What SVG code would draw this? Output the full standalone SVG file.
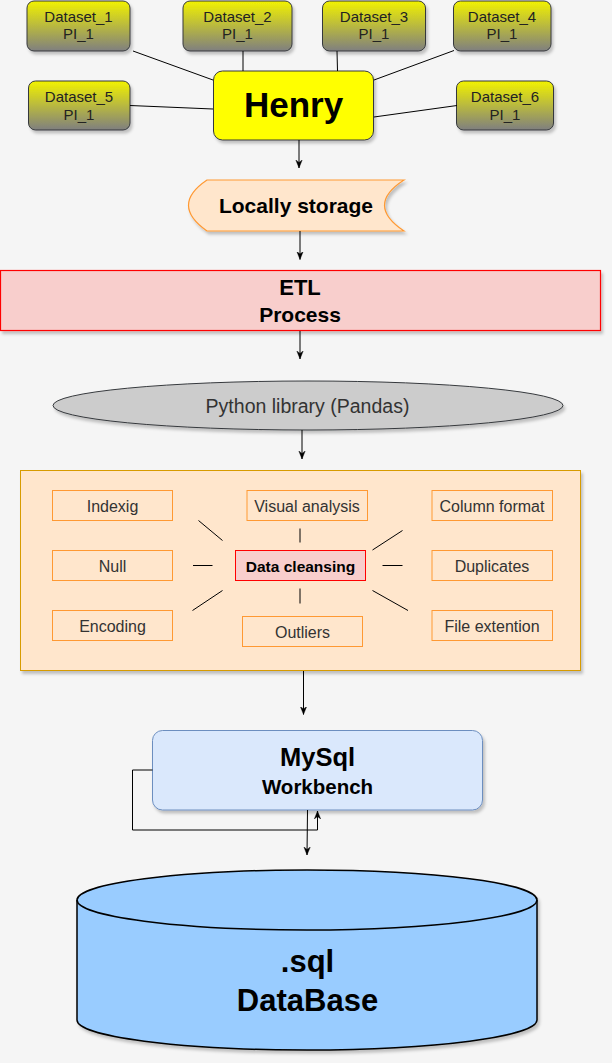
<svg xmlns="http://www.w3.org/2000/svg" width="612" height="1063" viewBox="0 0 612 1063">
<style>
text{font-family:"Liberation Sans",Arial,sans-serif;text-anchor:middle}
.ds{fill:url(#dsg);stroke:#36393d;stroke-width:1}
.dst{font-size:15px;fill:#222}
.sub{fill:#ffe6cc;stroke:#ff9933;stroke-width:1}
.subt{font-size:16px;fill:#333}
.ln{stroke:#000;stroke-width:1;fill:none}
.arr{stroke:#000;stroke-width:1;fill:none;marker-end:url(#ah)}
.b{font-weight:bold;fill:#000}
</style>
<defs>
<linearGradient id="dsg" x1="0" y1="0" x2="0" y2="1">
<stop offset="0" stop-color="#f2f200"/>
<stop offset="1" stop-color="#7f7f7f"/>
</linearGradient>
<filter id="sh" x="-10%" y="-10%" width="130%" height="140%">
<feDropShadow dx="2" dy="3" stdDeviation="1.5" flood-color="#000" flood-opacity="0.22"/>
</filter>
<marker id="ah" viewBox="0 0 10 10" refX="10" refY="5" markerWidth="8" markerHeight="8" orient="auto" markerUnits="userSpaceOnUse">
<path d="M0,1 L10,5 L0,9 L3,5 Z" fill="#000" stroke="#000" stroke-width="0.5"/>
</marker>
</defs>
<rect width="612" height="1063" fill="#f5f5f5"/>

<g id="dataset1"><rect class="ds" x="27" y="1" width="103" height="50" rx="7" filter="url(#sh)"/><text class="dst" x="78.5" y="21.5">Dataset_1</text><text class="dst" x="78.5" y="39">PI_1</text></g>
<g id="dataset2"><rect class="ds" x="183" y="1" width="109" height="50" rx="7" filter="url(#sh)"/><text class="dst" x="237.5" y="21.5">Dataset_2</text><text class="dst" x="237.5" y="39">PI_1</text></g>
<g id="dataset3"><rect class="ds" x="322.5" y="1" width="103" height="50" rx="7" filter="url(#sh)"/><text class="dst" x="374" y="21.5">Dataset_3</text><text class="dst" x="374" y="39">PI_1</text></g>
<g id="dataset4"><rect class="ds" x="453.5" y="1" width="97.5" height="50" rx="7" filter="url(#sh)"/><text class="dst" x="502" y="21.5">Dataset_4</text><text class="dst" x="502" y="39">PI_1</text></g>
<g id="dataset5"><rect class="ds" x="28.5" y="81" width="101.5" height="49" rx="7" filter="url(#sh)"/><text class="dst" x="79" y="101.5">Dataset_5</text><text class="dst" x="79" y="119.5">PI_1</text></g>
<g id="dataset6"><rect class="ds" x="456.5" y="81" width="97" height="49" rx="7" filter="url(#sh)"/><text class="dst" x="505" y="101.5">Dataset_6</text><text class="dst" x="505" y="119.5">PI_1</text></g>

<g id="henry"><rect x="213.5" y="71" width="160" height="69" rx="9" fill="#ffff00" stroke="#36393d" stroke-width="1" filter="url(#sh)"/><text class="b" x="293.5" y="117" font-size="35">Henry</text></g>

<g id="storage"><path d="M207,180 L404,180 Q365,205 404,231 L207,231 Q170,205 207,180 Z" fill="#ffe6cc" stroke="#ff9933" stroke-width="1.2" filter="url(#sh)"/><text class="b" x="296" y="212.5" font-size="21">Locally storage</text></g>

<g id="etl"><rect x="0.5" y="270.5" width="600" height="60" fill="#f8cecc" stroke="#ff0000" stroke-width="1.2" filter="url(#sh)"/><text class="b" x="300" y="294.5" font-size="22">ETL</text><text class="b" x="300" y="321.5" font-size="21">Process</text></g>

<g id="pandas"><ellipse cx="308" cy="405.5" rx="255" ry="24.5" fill="#cccccc" stroke="#36393d" stroke-width="1" filter="url(#sh)"/><text x="307.5" y="412.5" font-size="19.5" fill="#333">Python library (Pandas)</text></g>

<g id="cleansing-group"><rect x="20.5" y="470.5" width="560" height="200" fill="#ffe6cc" stroke="#d79b00" stroke-width="1" filter="url(#sh)"/></g>
<g id="indexig"><rect class="sub" x="52.5" y="490.5" width="120" height="30"/><text class="subt" x="112.5" y="511.5">Indexig</text></g>
<g id="visual"><rect class="sub" x="247" y="490.5" width="120.5" height="30"/><text class="subt" x="307" y="511.5">Visual analysis</text></g>
<g id="column"><rect class="sub" x="432" y="490.5" width="120.5" height="30"/><text class="subt" x="492" y="511.5">Column format</text></g>
<g id="null"><rect class="sub" x="52.5" y="550.5" width="120" height="30"/><text class="subt" x="112.5" y="571.5">Null</text></g>
<g id="datacleansing"><rect x="235.5" y="550.5" width="130" height="30" fill="#f8cecc" stroke="#ff0000" stroke-width="1"/><text class="b" x="300.5" y="571.5" font-size="15.5" fill="#222">Data cleansing</text></g>
<g id="duplicates"><rect class="sub" x="432" y="550.5" width="120.5" height="30"/><text class="subt" x="492" y="571.5">Duplicates</text></g>
<g id="encoding"><rect class="sub" x="52.5" y="610.5" width="120" height="30"/><text class="subt" x="112.5" y="631.5">Encoding</text></g>
<g id="outliers"><rect class="sub" x="242.5" y="616.5" width="120" height="30"/><text class="subt" x="302.5" y="637.5">Outliers</text></g>
<g id="fileext"><rect class="sub" x="432" y="610.5" width="120.5" height="30"/><text class="subt" x="492" y="631.5">File extention</text></g>

<g id="mysql"><rect x="152.5" y="730.5" width="330" height="79.5" rx="10" fill="#dae8fc" stroke="#6c8ebf" stroke-width="1" filter="url(#sh)"/><text class="b" x="317.5" y="766" font-size="25.5">MySql</text><text class="b" x="317.5" y="794" font-size="20.5">Workbench</text></g>

<g id="database"><path d="M77,900 L77,1020 A230,30 0 0 0 537,1020 L537,900 A230,30 0 0 0 77,900 Z" fill="#99ccff" stroke="#000" stroke-width="1.5" filter="url(#sh)"/><path d="M77,900 A230,30 0 0 0 537,900" fill="none" stroke="#000" stroke-width="1.5"/><text class="b" x="307.5" y="971.5" font-size="31">.sql</text><text class="b" x="307.5" y="1010.5" font-size="31">DataBase</text></g>

<g id="connectors">
<line class="ln" x1="133" y1="51" x2="213" y2="80" stroke="#1a1a1a"/>
<line class="ln" x1="243" y1="51" x2="243" y2="71"/>
<line class="ln" x1="337" y1="51" x2="337.5" y2="71"/>
<line class="ln" x1="454" y1="50.5" x2="374" y2="80"/>
<line class="ln" x1="130" y1="105.5" x2="213" y2="109"/>
<line class="ln" x1="457" y1="105.5" x2="374" y2="117"/>
<line class="arr" x1="299" y1="140" x2="299" y2="168"/>
<line class="arr" x1="300" y1="231" x2="300" y2="259.5"/>
<line class="arr" x1="300" y1="331" x2="300" y2="359"/>
<line class="arr" x1="302" y1="430" x2="302" y2="459"/>
<line class="arr" x1="303.5" y1="671" x2="303.5" y2="714.5"/>
<polyline class="arr" points="152.5,770 132.5,770 132.5,830 317.5,830 317.5,811"/>
<line class="arr" x1="307.5" y1="810" x2="307" y2="855"/>
<line class="ln" x1="198.5" y1="520.5" x2="222.5" y2="540.5"/>
<line class="ln" x1="300" y1="528.5" x2="300" y2="542.5"/>
<line class="ln" x1="402.5" y1="530.5" x2="372.5" y2="550"/>
<line class="ln" x1="193" y1="565.5" x2="212.5" y2="565.5"/>
<line class="ln" x1="382.5" y1="565.5" x2="402.5" y2="565.5"/>
<line class="ln" x1="192.5" y1="610.5" x2="222.5" y2="590.5"/>
<line class="ln" x1="300" y1="588.5" x2="300" y2="603.5"/>
<line class="ln" x1="372.5" y1="590.5" x2="408" y2="610.5"/>
</g>
</svg>
